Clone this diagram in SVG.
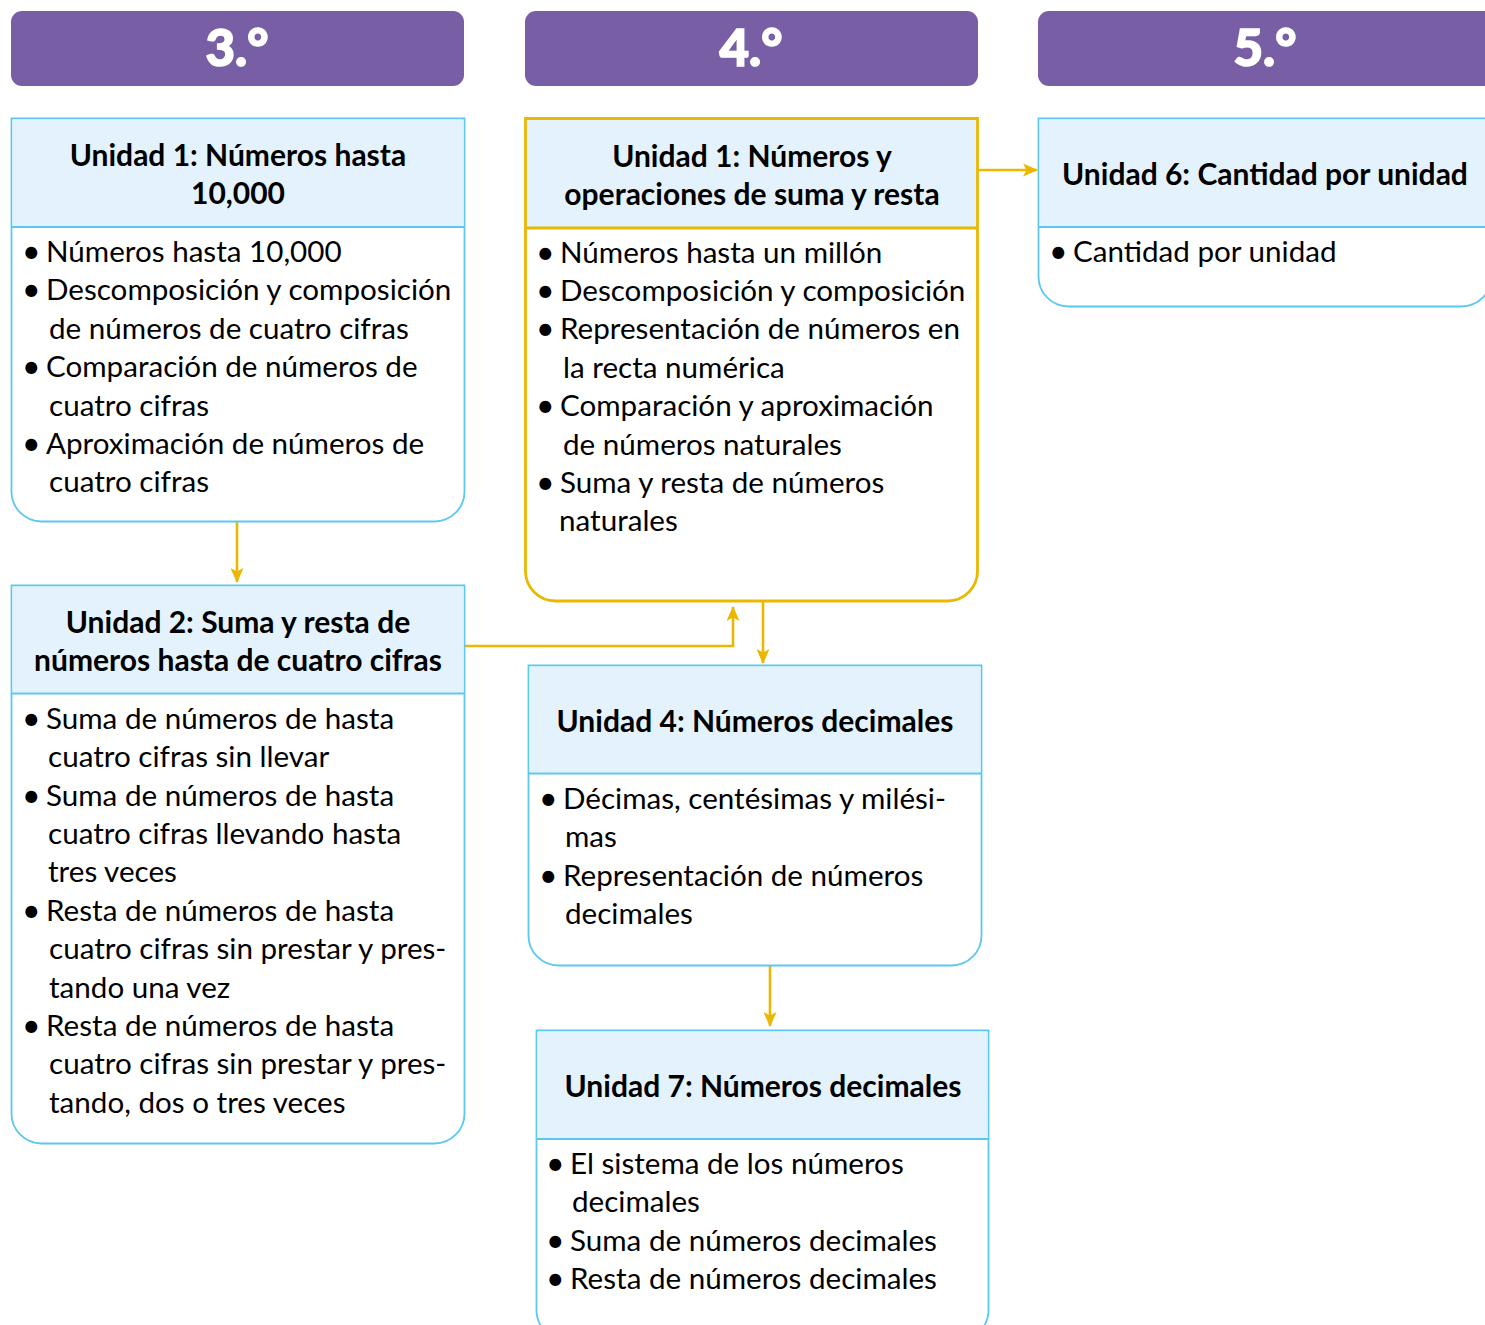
<svg xmlns="http://www.w3.org/2000/svg" width="1485" height="1325" viewBox="0 0 1485 1325">
<style>
.grade{fill:#775EA5}
.gt{font-family:Lato,"Open Sans",sans-serif;font-weight:900;font-size:51px;fill:#fff;stroke:#fff;stroke-width:1.6;text-anchor:middle}
.hd{fill:#E3F2FD;stroke:none}
.box{fill:#fff;stroke:#5BC8F0;stroke-width:1.8}
.gold{fill:#fff;stroke:#EBB700;stroke-width:2.8}
.sep{stroke:#5BC8F0;stroke-width:1.8}
.sepg{stroke:#EBB700;stroke-width:2.8}
.tt{font-family:Lato,"Open Sans",sans-serif;font-weight:bold;font-size:30px;fill:#000;text-anchor:middle}
.bt{font-family:Lato,"Open Sans",sans-serif;font-size:29.6px;fill:#000}
.bu{font-family:Lato,"Open Sans",sans-serif;font-size:32px;fill:#000}
.con{fill:none;stroke:#EBB700;stroke-width:2.6}
</style>
<defs>
<marker id="ah" viewBox="0 0 15 13" refX="14" refY="6.5" markerWidth="15" markerHeight="13" markerUnits="userSpaceOnUse" orient="auto">
<path d="M0,0 L15,6.5 L0,13 L3.5,6.5 Z" fill="#EBB700"/>
</marker>
</defs>

<g id="grade3"><rect class="grade" x="11" y="11" width="453" height="75" rx="11"/><text class="gt" x="237" y="66">3.°</text></g>
<g id="grade4"><rect class="grade" x="525" y="11" width="453" height="75" rx="11"/><text class="gt" x="751" y="66">4.°</text></g>
<g id="grade5"><rect class="grade" x="1038" y="11" width="460" height="75" rx="11"/><text class="gt" x="1265" y="66">5.°</text></g>

<g id="connectors">
<path class="con" d="M237,522 V582" marker-end="url(#ah)"/>
<path class="con" d="M465,646 H733 V607" marker-end="url(#ah)"/>
<path class="con" d="M763,602 V663" marker-end="url(#ah)"/>
<path class="con" d="M978,170 H1037" marker-end="url(#ah)"/>
<path class="con" d="M770,966 V1026" marker-end="url(#ah)"/>
</g>

<g id="u1-3">
<path class="box" d="M11.5,118.5 H464.5 V491.5 A30,30 0 0 1 434.5,521.5 H41.5 A30,30 0 0 1 11.5,491.5 Z"/>
<rect class="hd" x="12.5" y="119.5" width="451" height="107"/>
<line class="sep" x1="11.5" y1="227" x2="464.5" y2="227"/>
<text class="tt" x="238" y="166">Unidad 1: Números hasta</text>
<text class="tt" x="238" y="204">10,000</text>
<text class="bu" x="22" y="263">•</text><text class="bt" x="46" y="262">Números hasta 10,000</text>
<text class="bu" x="22" y="301">•</text><text class="bt" x="46" y="300">Descomposición y composición</text>
<text class="bt" x="49" y="339">de números de cuatro cifras</text>
<text class="bu" x="22" y="378">•</text><text class="bt" x="46" y="377">Comparación de números de</text>
<text class="bt" x="49" y="416">cuatro cifras</text>
<text class="bu" x="22" y="455">•</text><text class="bt" x="46" y="454">Aproximación de números de</text>
<text class="bt" x="49" y="492">cuatro cifras</text>
</g>

<g id="u2-3">
<path class="box" d="M11.5,585.5 H464.5 V1113.5 A30,30 0 0 1 434.5,1143.5 H41.5 A30,30 0 0 1 11.5,1113.5 Z"/>
<rect class="hd" x="12.5" y="586.5" width="451" height="106"/>
<line class="sep" x1="11.5" y1="693.5" x2="464.5" y2="693.5"/>
<text class="tt" x="238" y="633">Unidad 2: Suma y resta de</text>
<text class="tt" x="238" y="671">números hasta de cuatro cifras</text>
<text class="bu" x="22" y="730">•</text><text class="bt" x="46" y="729">Suma de números de hasta</text>
<text class="bt" x="48" y="767">cuatro cifras sin llevar</text>
<text class="bu" x="22" y="807">•</text><text class="bt" x="46" y="806">Suma de números de hasta</text>
<text class="bt" x="48" y="844">cuatro cifras llevando hasta</text>
<text class="bt" x="48" y="882">tres veces</text>
<text class="bu" x="22" y="922">•</text><text class="bt" x="46" y="921">Resta de números de hasta</text>
<text class="bt" x="49" y="959">cuatro cifras sin prestar y pres-</text>
<text class="bt" x="49" y="998">tando una vez</text>
<text class="bu" x="22" y="1037">•</text><text class="bt" x="46" y="1036">Resta de números de hasta</text>
<text class="bt" x="49" y="1074">cuatro cifras sin prestar y pres-</text>
<text class="bt" x="49" y="1113">tando, dos o tres veces</text>
</g>

<g id="u1-4">
<path class="gold" d="M525.5,118.5 H977.5 V571 A30,30 0 0 1 947.5,601 H555.5 A30,30 0 0 1 525.5,571 Z"/>
<rect class="hd" x="527" y="120" width="449" height="107"/>
<line class="sepg" x1="525.5" y1="228" x2="977.5" y2="228"/>
<text class="tt" x="752" y="167">Unidad 1: Números y</text>
<text class="tt" x="752" y="205">operaciones de suma y resta</text>
<text class="bu" x="536" y="264">•</text><text class="bt" x="560" y="263">Números hasta un millón</text>
<text class="bu" x="536" y="302">•</text><text class="bt" x="560" y="301">Descomposición y composición</text>
<text class="bu" x="536" y="340">•</text><text class="bt" x="560" y="339">Representación de números en</text>
<text class="bt" x="563" y="378">la recta numérica</text>
<text class="bu" x="536" y="417">•</text><text class="bt" x="560" y="416">Comparación y aproximación</text>
<text class="bt" x="563" y="455">de números naturales</text>
<text class="bu" x="536" y="494">•</text><text class="bt" x="560" y="493">Suma y resta de números</text>
<text class="bt" x="559" y="531">naturales</text>
</g>

<g id="u6-5">
<path class="box" d="M1038.5,118.5 H1491.5 V276.5 A30,30 0 0 1 1461.5,306.5 H1068.5 A30,30 0 0 1 1038.5,276.5 Z"/>
<rect class="hd" x="1039.5" y="119.5" width="452" height="107"/>
<line class="sep" x1="1038.5" y1="227" x2="1491.5" y2="227"/>
<text class="tt" x="1265" y="185">Unidad 6: Cantidad por unidad</text>
<text class="bu" x="1049" y="263">•</text><text class="bt" x="1073" y="262">Cantidad por unidad</text>
</g>

<g id="u4-4">
<path class="box" d="M528.5,665.5 H981.5 V935.5 A30,30 0 0 1 951.5,965.5 H558.5 A30,30 0 0 1 528.5,935.5 Z"/>
<rect class="hd" x="529.5" y="666.5" width="451" height="106"/>
<line class="sep" x1="528.5" y1="773.5" x2="981.5" y2="773.5"/>
<text class="tt" x="755" y="732">Unidad 4: Números decimales</text>
<text class="bu" x="539" y="810">•</text><text class="bt" x="563" y="809">Décimas, centésimas y milési-</text>
<text class="bt" x="565" y="847">mas</text>
<text class="bu" x="539" y="887">•</text><text class="bt" x="563" y="886">Representación de números</text>
<text class="bt" x="565" y="924">decimales</text>
</g>

<g id="u7-4">
<path class="box" d="M536.5,1030.5 H988.5 V1310 A30,30 0 0 1 958.5,1340 H566.5 A30,30 0 0 1 536.5,1310 Z"/>
<rect class="hd" x="537.5" y="1031.5" width="450" height="107"/>
<line class="sep" x1="536.5" y1="1139" x2="988.5" y2="1139"/>
<text class="tt" x="763" y="1097">Unidad 7: Números decimales</text>
<text class="bu" x="546" y="1175">•</text><text class="bt" x="570" y="1174">El sistema de los números</text>
<text class="bt" x="572" y="1212">decimales</text>
<text class="bu" x="546" y="1252">•</text><text class="bt" x="570" y="1251">Suma de números decimales</text>
<text class="bu" x="546" y="1290">•</text><text class="bt" x="570" y="1289">Resta de números decimales</text>
</g>
</svg>
